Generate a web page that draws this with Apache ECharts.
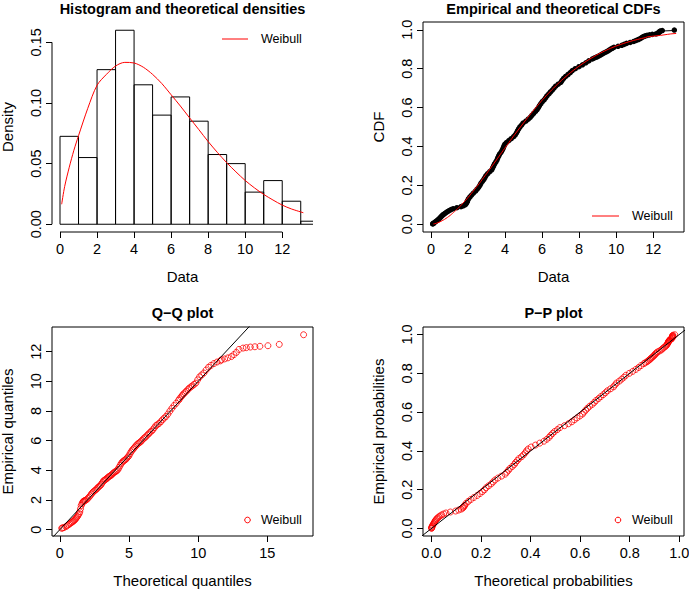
<!DOCTYPE html>
<html>
<head>
<meta charset="utf-8">
<script src="https://cdn.jsdelivr.net/npm/echarts@6/dist/echarts.min.js"></script>
<style>
html, body { margin: 0; padding: 0; background: #fff; }
#main { width: 689px; height: 590px; }
</style>
</head>
<body>
<div id="main"></div>
<script>
var FONT = '"Liberation Sans", Arial, Helvetica, sans-serif';

// histogram (density scale), breaks of width 1
var histBreaks = [0, 1, 2, 3, 4, 5, 6, 7, 8, 9, 10, 11, 12, 13, 14];
var histDensity = [0.0725, 0.055, 0.1275, 0.16, 0.115, 0.09, 0.105, 0.085, 0.0575, 0.05, 0.0265, 0.036, 0.019, 0.0025];

// fitted Weibull density
var densX = [0.09, 0.25, 0.5, 0.75, 1, 1.5, 2, 2.5, 3, 3.5, 4, 4.5, 5, 5.5, 6, 6.5, 7, 7.5, 8, 8.5, 9, 9.5, 10, 10.5, 11, 11.5, 12, 12.5, 13.14];
var densY = [0.0165, 0.031, 0.047, 0.061, 0.073, 0.0956, 0.1146, 0.1235, 0.1305, 0.1335, 0.133, 0.1295, 0.1236, 0.116, 0.1068, 0.0975, 0.0877, 0.078, 0.0682, 0.0592, 0.0508, 0.0432, 0.0361, 0.03, 0.0246, 0.02, 0.0158, 0.0126, 0.0095];

// probability levels of the plotted order statistics
var probs = [0.00125, 0.0025, 0.005, 0.01, 0.015,
  0.02, 0.025, 0.03, 0.035, 0.04, 0.045, 0.05, 0.055, 0.06, 0.065,
  0.07, 0.075, 0.08, 0.085, 0.09, 0.095, 0.10, 0.105, 0.11, 0.115, 0.12,
  0.13, 0.14, 0.15, 0.16, 0.17, 0.18, 0.19, 0.20,
  0.21, 0.22, 0.23, 0.24, 0.25, 0.26, 0.27, 0.28, 0.29, 0.30,
  0.31, 0.32, 0.33, 0.34, 0.35, 0.36, 0.37, 0.38, 0.39, 0.40,
  0.41, 0.42, 0.43, 0.44, 0.45, 0.46, 0.47, 0.48, 0.49, 0.50,
  0.51, 0.52, 0.53, 0.54, 0.55, 0.56, 0.57, 0.58, 0.59, 0.60,
  0.61, 0.62, 0.63, 0.64, 0.65, 0.66, 0.67, 0.68, 0.69, 0.70,
  0.71, 0.72, 0.73, 0.74, 0.75, 0.76, 0.77, 0.78, 0.79, 0.80,
  0.81, 0.82, 0.83, 0.84,
  0.85, 0.855, 0.86, 0.865, 0.87, 0.875, 0.88, 0.885, 0.89, 0.895, 0.90,
  0.905, 0.91, 0.915, 0.92, 0.925, 0.93, 0.935, 0.94, 0.945, 0.95, 0.955, 0.96,
  0.96375, 0.96625, 0.96875, 0.97125, 0.97375, 0.97625, 0.97875, 0.98125,
  0.98375, 0.98625, 0.98875, 0.99125, 0.99375, 0.99625, 0.99875];

// empirical quantiles (sorted data)
var empQuant = [0.09, 0.11, 0.14, 0.20, 0.27,
  0.34, 0.40, 0.46, 0.51, 0.56, 0.61, 0.67, 0.74, 0.81, 0.89,
  0.98, 1.08, 1.20, 1.40, 1.62, 1.74, 1.84, 1.89, 1.92, 1.95, 1.97,
  2.02, 2.10, 2.19, 2.29, 2.40, 2.49, 2.57, 2.64,
  2.69, 2.77, 2.85, 2.91, 2.97, 3.06, 3.17, 3.28, 3.33, 3.38,
  3.43, 3.50, 3.56, 3.60, 3.65, 3.70, 3.78, 3.84, 3.89, 3.93,
  3.98, 4.07, 4.20, 4.33, 4.46, 4.55, 4.62, 4.67, 4.73, 4.80,
  4.89, 4.97, 5.12, 5.25, 5.36, 5.45, 5.54, 5.64, 5.73, 5.80,
  5.86, 5.93, 6.01, 6.11, 6.19, 6.26, 6.36, 6.45, 6.55, 6.64,
  6.73, 6.87, 7.01, 7.08, 7.16, 7.27, 7.40, 7.52, 7.63, 7.79,
  7.99, 8.18, 8.36, 8.52,
  8.72, 8.83, 8.95, 9.05, 9.15, 9.24, 9.33, 9.44, 9.54, 9.62, 9.70,
  9.79, 9.88, 10.10, 10.30, 10.43, 10.56, 10.76, 10.95, 11.08, 11.20, 11.30, 11.38,
  11.45, 11.51, 11.58, 11.67, 11.80, 11.95, 12.15, 12.24,
  12.27, 12.31, 12.33, 12.36, 12.40, 12.49, 13.14];

// theoretical Weibull quantiles at the same levels
var theoQuant = [0.13, 0.19, 0.29, 0.43, 0.54,
  0.64, 0.73, 0.81, 0.89, 0.96, 1.03, 1.09, 1.15, 1.21, 1.27,
  1.33, 1.39, 1.44, 1.49, 1.54, 1.60, 1.65, 1.69, 1.74, 1.79, 1.84,
  1.93, 2.02, 2.11, 2.19, 2.28, 2.36, 2.44, 2.53,
  2.61, 2.69, 2.76, 2.84, 2.92, 3.00, 3.07, 3.15, 3.23, 3.30,
  3.38, 3.45, 3.53, 3.60, 3.68, 3.75, 3.83, 3.90, 3.98, 4.05,
  4.13, 4.21, 4.28, 4.36, 4.43, 4.51, 4.59, 4.67, 4.75, 4.83,
  4.91, 4.99, 5.07, 5.15, 5.23, 5.32, 5.40, 5.49, 5.57, 5.66,
  5.75, 5.84, 5.93, 6.02, 6.12, 6.21, 6.31, 6.41, 6.51, 6.62,
  6.72, 6.83, 6.94, 7.05, 7.17, 7.29, 7.41, 7.54, 7.67, 7.81,
  7.95, 8.10, 8.25, 8.41,
  8.58, 8.67, 8.76, 8.85, 8.94, 9.04, 9.14, 9.25, 9.35, 9.47, 9.58,
  9.70, 9.83, 9.96, 10.10, 10.25, 10.41, 10.57, 10.75, 10.93, 11.14, 11.36, 11.60,
  11.68, 11.91, 12.15, 12.40, 12.58, 12.76, 12.95, 13.24,
  13.48, 13.77, 14.10, 14.46, 15.04, 15.86, 17.62];

// theoretical probabilities of the sorted data
var theoProb = [0.0007, 0.0009, 0.0014, 0.0026, 0.0045,
  0.0066, 0.0088, 0.0113, 0.0135, 0.0159, 0.0184, 0.0217, 0.0257, 0.0300, 0.0353,
  0.0417, 0.0492, 0.0589, 0.0764, 0.0975, 0.1098, 0.1203, 0.1260, 0.1291, 0.1323, 0.1345,
  0.1401, 0.1492, 0.1597, 0.1714, 0.1847, 0.1957, 0.2056, 0.2143,
  0.2206, 0.2307, 0.2411, 0.2488, 0.2565, 0.2682, 0.2828, 0.2972, 0.3039, 0.3104,
  0.3170, 0.3263, 0.3343, 0.3396, 0.3463, 0.3530, 0.3637, 0.3717, 0.3784, 0.3837,
  0.3902, 0.4023, 0.4197, 0.4370, 0.4540, 0.4657, 0.4748, 0.4812, 0.4889, 0.4970,
  0.5083, 0.5183, 0.5368, 0.5526, 0.5660, 0.5767, 0.5873, 0.5990, 0.6093, 0.6157,
  0.6224, 0.6299, 0.6384, 0.6489, 0.6572, 0.6644, 0.6745, 0.6835, 0.6933, 0.7023,
  0.7103, 0.7225, 0.7346, 0.7405, 0.7471, 0.7583, 0.7679, 0.7767, 0.7847, 0.7986,
  0.8122, 0.8246, 0.8359, 0.8456,
  0.8572, 0.8633, 0.8704, 0.8752, 0.8800, 0.8841, 0.8882, 0.8930, 0.8972, 0.9006, 0.9039,
  0.9080, 0.9119, 0.9196, 0.9266, 0.9307, 0.9347, 0.9402, 0.9454, 0.9485, 0.9514, 0.9537, 0.9555,
  0.9569, 0.9581, 0.9595, 0.9613, 0.9639, 0.9662, 0.9695, 0.9708,
  0.9712, 0.9718, 0.9721, 0.9726, 0.9731, 0.9743, 0.9817];

// reference lines y = x
var qqDiag = [-1, 20];
var ppDiag = [-0.1, 1.1];

// tick values
var ticksData = [0, 2, 4, 6, 8, 10, 12];
var ticksDens = [0, 0.05, 0.10, 0.15];
var ticksProb = [0, 0.2, 0.4, 0.6, 0.8, 1.0];
var ticksTheoQ = [0, 5, 10, 15];
var ticksEmpQ = [0, 2, 4, 6, 8, 10, 12];

// axis ranges (R adds 4% on each side)
var rangeData = [-0.432, 13.662];
var rangeDens = [-0.0064, 0.1668];
var rangeCdf = [-0.04, 1.04];
var rangeTheoQ = [-0.57, 18.3];
var rangePPx = [-0.034, 1.019];
var rangePPy = [-0.0387, 1.0387];

function pairs(a, b) {
    var out = [];
    for (var i = 0; i < a.length; i++) {
        out.push([a[i], b[i]]);
    }
    return out;
}

function makeAxis(grid, range, ticks, digits, name, vertical) {
    return {
        type: 'value',
        gridIndex: grid,
        min: range[0],
        max: range[1],
        name: name,
        nameLocation: 'middle',
        nameGap: 37,
        nameTextStyle: { fontSize: 15, color: '#000', fontFamily: FONT },
        axisLine: { show: false, onZero: false },
        axisTick: { show: true, length: 6, customValues: ticks, lineStyle: { color: '#000', width: 1 } },
        axisLabel: {
            customValues: ticks,
            rotate: vertical ? 90 : 0,
            margin: 9,
            fontSize: 14.5,
            color: '#000',
            fontFamily: FONT,
            formatter: function (v) { return v.toFixed(digits); }
        },
        splitLine: { show: false }
    };
}

function panelTitle(text, cx, top) {
    return { text: text, left: cx, top: top, textAlign: 'center', padding: 0,
             textStyle: { fontSize: 14.5, fontWeight: 'bold', color: '#000', fontFamily: FONT } };
}

var redCdf = pairs(theoQuant, probs).filter(function (d) { return d[0] <= 13.3; });
var boxStyle = { show: true, borderColor: '#000', borderWidth: 1, backgroundColor: 'transparent' };

var chart = echarts.init(document.getElementById('main'), null, { renderer: 'svg' });

var option = {
    animation: false,
    backgroundColor: '#fff',
    textStyle: { fontFamily: FONT },
    title: [
        panelTitle('Histogram and theoretical densities', 182.5, 1),
        panelTitle('Empirical and theoretical CDFs', 553.5, 1),
        panelTitle('Q\u2212Q plot', 182.5, 305),
        panelTitle('P\u2212P plot', 553.5, 305)
    ],
    grid: [
        { left: 52, top: 22, width: 261, height: 210, outerBoundsMode: 'none' },
        Object.assign({ left: 423, top: 22, width: 261, height: 210, outerBoundsMode: 'none' }, boxStyle),
        Object.assign({ left: 52, top: 327, width: 261, height: 209, outerBoundsMode: 'none' }, boxStyle),
        Object.assign({ left: 423, top: 327, width: 261, height: 209, outerBoundsMode: 'none' }, boxStyle)
    ],
    xAxis: [
        makeAxis(0, rangeData, ticksData, 0, 'Data', false),
        makeAxis(1, rangeData, ticksData, 0, 'Data', false),
        makeAxis(2, rangeTheoQ, ticksTheoQ, 0, 'Theoretical quantiles', false),
        makeAxis(3, rangePPx, ticksProb, 1, 'Theoretical probabilities', false)
    ],
    yAxis: [
        makeAxis(0, rangeDens, ticksDens, 2, 'Density', true),
        makeAxis(1, rangeCdf, ticksProb, 1, 'CDF', true),
        makeAxis(2, rangeData, ticksEmpQ, 0, 'Empirical quantiles', true),
        makeAxis(3, rangePPy, ticksProb, 1, 'Empirical probabilities', true)
    ],
    series: [
        {
            // histogram bars
            type: 'custom',
            name: 'hist',
            xAxisIndex: 0, yAxisIndex: 0,
            clip: true,
            silent: true,
            data: histDensity.map(function (d, i) { return [histBreaks[i], histBreaks[i + 1], d]; }),
            encode: { x: [0, 1], y: 2 },
            renderItem: function (params, api) {
                var p0 = api.coord([api.value(0), 0]);
                var p1 = api.coord([api.value(1), api.value(2)]);
                return {
                    type: 'rect',
                    shape: { x: p0[0], y: p1[1], width: p1[0] - p0[0], height: p0[1] - p1[1] },
                    style: { fill: 'none', stroke: '#000', lineWidth: 1 }
                };
            }
        },
        {
            type: 'line', name: 'Weibull',
            xAxisIndex: 0, yAxisIndex: 0, z: 3,
            data: pairs(densX, densY),
            smooth: 0.3, showSymbol: false, silent: true,
            lineStyle: { color: '#ff0000', width: 1 }
        },
        {
            // empirical CDF: points + horizontal steps
            type: 'line', name: 'ecdf',
            xAxisIndex: 1, yAxisIndex: 1, z: 2,
            data: pairs(empQuant, probs),
            step: 'end', showSymbol: true, symbol: 'circle', symbolSize: 5.5, silent: true,
            itemStyle: { color: '#000' },
            lineStyle: { color: '#000', width: 1 }
        },
        {
            type: 'line', name: 'Weibull',
            xAxisIndex: 1, yAxisIndex: 1, z: 4,
            data: redCdf,
            showSymbol: false, silent: true,
            lineStyle: { color: '#ff0000', width: 1 }
        },
        {
            type: 'scatter', name: 'Weibull',
            xAxisIndex: 2, yAxisIndex: 2, z: 2,
            data: pairs(theoQuant, empQuant),
            symbol: 'circle', symbolSize: 6, silent: true,
            itemStyle: { color: 'rgba(255,255,255,0)', borderColor: '#ff0000', borderWidth: 1 }
        },
        {
            type: 'line', name: 'qqline',
            xAxisIndex: 2, yAxisIndex: 2, z: 4,
            data: pairs(qqDiag, qqDiag),
            showSymbol: false, silent: true, clip: true,
            lineStyle: { color: '#000', width: 1 }
        },
        {
            type: 'scatter', name: 'Weibull',
            xAxisIndex: 3, yAxisIndex: 3, z: 2,
            data: pairs(theoProb, probs),
            symbol: 'circle', symbolSize: 6, silent: true,
            itemStyle: { color: 'rgba(255,255,255,0)', borderColor: '#ff0000', borderWidth: 1 }
        },
        {
            type: 'line', name: 'ppline',
            xAxisIndex: 3, yAxisIndex: 3, z: 4,
            data: pairs(ppDiag, ppDiag),
            showSymbol: false, silent: true, clip: true,
            lineStyle: { color: '#000', width: 1 }
        }
    ]
};

chart.setOption(option);

// histogram panel has no box: axis lines only span the ticks
var ax0 = chart.convertToPixel({ xAxisIndex: 0 }, ticksData[0]);
var ax1 = chart.convertToPixel({ xAxisIndex: 0 }, ticksData[ticksData.length - 1]);
var axY = chart.convertToPixel({ yAxisIndex: 0 }, rangeDens[0]);
var ay0 = chart.convertToPixel({ yAxisIndex: 0 }, ticksDens[0]);
var ay1 = chart.convertToPixel({ yAxisIndex: 0 }, ticksDens[ticksDens.length - 1]);
var ayX = chart.convertToPixel({ xAxisIndex: 0 }, rangeData[0]);

function legendText(x, y) {
    return { type: 'text', x: x, y: y, silent: true,
             style: { text: 'Weibull', fill: '#000', fontSize: 12.5, fontFamily: FONT, verticalAlign: 'middle' } };
}

chart.setOption({
    graphic: [
        { type: 'line', silent: true, shape: { x1: ax0, y1: axY, x2: ax1, y2: axY }, style: { stroke: '#000', lineWidth: 1 } },
        { type: 'line', silent: true, shape: { x1: ayX, y1: ay0, x2: ayX, y2: ay1 }, style: { stroke: '#000', lineWidth: 1 } },
        { type: 'line', silent: true, shape: { x1: 222, y1: 39, x2: 248, y2: 39 }, style: { stroke: '#ff0000', lineWidth: 1 } },
        legendText(261, 39),
        { type: 'line', silent: true, shape: { x1: 592, y1: 216, x2: 619, y2: 216 }, style: { stroke: '#ff0000', lineWidth: 1 } },
        legendText(632, 216),
        { type: 'circle', silent: true, shape: { cx: 247.5, cy: 520, r: 2.8 }, style: { fill: 'none', stroke: '#ff0000', lineWidth: 1 } },
        legendText(261, 520),
        { type: 'circle', silent: true, shape: { cx: 618, cy: 520, r: 2.8 }, style: { fill: 'none', stroke: '#ff0000', lineWidth: 1 } },
        legendText(632, 520)
    ]
});
</script>
</body>
</html>
